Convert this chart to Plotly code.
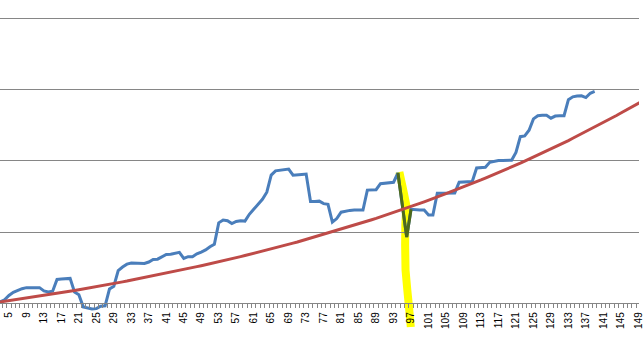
import plotly.graph_objects as go

# ---- data ----
categories = list(range(1, 151))

blue_values = [
    0.00, 0.10, 0.20, 0.50, 1.10, 1.55, 1.85, 2.05, 2.20, 2.20,   # 1-10
    2.20, 2.20, 1.75, 1.60, 1.70, 3.35, 3.40, 3.45, 3.50, 1.60,   # 11-20
    1.20, -0.50, -0.70, -0.80, -0.75, -0.40, -0.35, 2.00, 2.40, 4.60,  # 21-30
    5.10, 5.50, 5.65, 5.65, 5.65, 5.60, 5.80, 6.15, 6.20, 6.50,   # 31-40
    6.85, 6.90, 7.00, 7.15, 6.30, 6.55, 6.55, 6.95, 7.20, 7.50,   # 41-50
    7.95, 8.30, 11.30, 11.70, 11.60, 11.20, 11.50, 11.60, 11.55, 12.50,  # 51-60
    13.20, 13.90, 14.60, 15.60, 18.00, 18.60, 18.70, 18.80, 18.85, 18.00,  # 61-70
    18.10, 18.10, 18.15, 14.30, 14.30, 14.35, 14.00, 13.90, 11.40, 11.90,  # 71-80
    12.80, 12.95, 13.05, 13.10, 13.10, 13.10, 15.90, 15.90, 15.95, 16.80,  # 81-90
    16.90, 16.90, 17.00, 18.30, 13.80, 9.30, 13.20, 13.10, 13.10, 13.10,  # 91-100
    12.40, 12.40, 15.45, 15.45, 15.45, 15.45, 15.50, 17.00, 17.00, 17.00,  # 101-110
    17.10, 19.00, 19.05, 19.10, 19.80, 19.95, 20.05, 20.05, 20.05, 20.10,  # 111-120
    21.20, 23.40, 23.50, 24.30, 25.90, 26.35, 26.40, 26.40, 26.00, 26.30,  # 121-130
    26.35, 26.35, 28.60, 29.00, 29.10, 29.15, 28.90, 29.50, 29.75, None,   # 131-140
    None, None, None, None, None, None, None, None, None, None,            # 141-150
]

red_values = [
    0.00, 0.09, 0.18, 0.26, 0.35, 0.44, 0.53, 0.63, 0.72, 0.81,
    0.91, 1.00, 1.10, 1.19, 1.29, 1.39, 1.49, 1.59, 1.70, 1.80,
    1.91, 2.01, 2.12, 2.23, 2.34, 2.45, 2.56, 2.67, 2.78, 2.89,
    3.01, 3.12, 3.24, 3.36, 3.48, 3.60, 3.72, 3.84, 3.97, 4.09,
    4.22, 4.35, 4.48, 4.61, 4.74, 4.88, 5.01, 5.15, 5.28, 5.41,
    5.55, 5.69, 5.83, 5.98, 6.12, 6.27, 6.42, 6.56, 6.71, 6.86,
    7.01, 7.17, 7.33, 7.49, 7.65, 7.81, 7.97, 8.13, 8.29, 8.45,
    8.61, 8.79, 8.96, 9.14, 9.32, 9.50, 9.67, 9.85, 10.02, 10.20,
    10.38, 10.57, 10.77, 10.96, 11.16, 11.35, 11.55, 11.74, 11.93, 12.13,
    12.32, 12.53, 12.75, 12.96, 13.18, 13.39, 13.60, 13.82, 14.03, 14.25,
    14.46, 14.70, 14.93, 15.17, 15.40, 15.64, 15.87, 16.11, 16.34, 16.58,
    16.81, 17.07, 17.33, 17.59, 17.84, 18.10, 18.36, 18.62, 18.88, 19.14,
    19.40, 19.68, 19.97, 20.25, 20.54, 20.82, 21.11, 21.39, 21.67, 21.96,
    22.24, 22.55, 22.86, 23.18, 23.49, 23.80, 24.11, 24.43, 24.74, 25.05,
    25.36, 25.70, 26.04, 26.38, 26.72, 27.06, 27.40, 27.74, 28.08, 28.43,
]

# highlighted (green) part of the blue series: categories 94..97
green_start, green_end = 94, 97

tick_labels = [str(c) for c in range(1, 150, 4)]

# ---- style / layout constants ----
W, H = 644, 354
PLOT_BOTTOM_PX = 312          # bottom of plot area in pixels
AXIS_PX = 303.3               # pixel row of the category axis (value 0)
PX_PER_UNIT = 7.12            # pixels per value unit
X_RANGE = [2.957, 149.15]

y_min = -(PLOT_BOTTOM_PX - AXIS_PX) / PX_PER_UNIT
y_max = AXIS_PX / PX_PER_UNIT
axis_pos = (PLOT_BOTTOM_PX - AXIS_PX) / PLOT_BOTTOM_PX

BLUE = "#4A7EBB"
RED = "#BE4B48"
GREEN = "#4F6A1A"
GRID = "#868686"

fig = go.Figure()

fig.add_trace(go.Scatter(
    x=categories, y=blue_values, mode="lines",
    line=dict(color=BLUE, width=3), hoverinfo="skip", connectgaps=False,
    xaxis="x", yaxis="y",
))

gi0 = categories.index(green_start)
gi1 = categories.index(green_end) + 1
fig.add_trace(go.Scatter(
    x=categories[gi0:gi1], y=blue_values[gi0:gi1], mode="lines",
    line=dict(color=GREEN, width=3), hoverinfo="skip",
    xaxis="x2", yaxis="y",
))

fig.add_trace(go.Scatter(
    x=categories, y=red_values, mode="lines",
    line=dict(color=RED, width=3), hoverinfo="skip",
    xaxis="x3", yaxis="y",
))

# yellow free-hand highlighter stroke (annotation), given in pixels
yellow_px = [(402.5, 172), (406, 188), (409.5, 205), (408.5, 225), (408.3, 245),
             (408.7, 270), (410.5, 290), (412, 305), (414, 327)]
path = ""
for i, (px, py) in enumerate(yellow_px):
    path += ("M " if i == 0 else " L ") + f"{px / W:.5f},{(PLOT_BOTTOM_PX - py) / PLOT_BOTTOM_PX:.5f}"

fig.add_shape(type="path", path=path, xref="paper", yref="paper",
              line=dict(color="#FFFF00", width=8), layer="below")

fig.update_layout(
    width=W, height=H,
    margin=dict(l=0, r=0, t=0, b=H - PLOT_BOTTOM_PX, pad=0),
    paper_bgcolor="white", plot_bgcolor="rgba(0,0,0,0)",
    showlegend=False,
    xaxis=dict(range=X_RANGE, showticklabels=False, ticks="", showgrid=False,
               zeroline=False, showline=False),
    # axis line + tick marks between categories
    xaxis2=dict(range=X_RANGE, overlaying="x", anchor="free", position=axis_pos,
                side="bottom", tickmode="array",
                tickvals=[c + 0.5 for c in range(0, 150)],
                showticklabels=False, ticks="outside", ticklen=4,
                tickcolor=GRID, tickwidth=1,
                showline=True, linecolor=GRID, linewidth=1,
                showgrid=False, zeroline=False),
    # category labels
    xaxis3=dict(range=X_RANGE, overlaying="x", anchor="free", position=axis_pos,
                side="bottom", tickmode="array",
                tickvals=list(range(1, 150, 4)), ticktext=tick_labels,
                tickangle=-90, ticks="outside", ticklen=4,
                tickcolor="rgba(0,0,0,0)", ticklabeloverflow="allow",
                tickfont=dict(family="Liberation Sans", size=10, color="black"),
                showline=False, showgrid=False, zeroline=False),
    yaxis=dict(range=[y_min, y_max], tick0=0, dtick=10, showgrid=True,
               gridcolor=GRID, gridwidth=1, showticklabels=False, ticks="",
               zeroline=False, showline=False),
)

fig.write_html("out.html")
